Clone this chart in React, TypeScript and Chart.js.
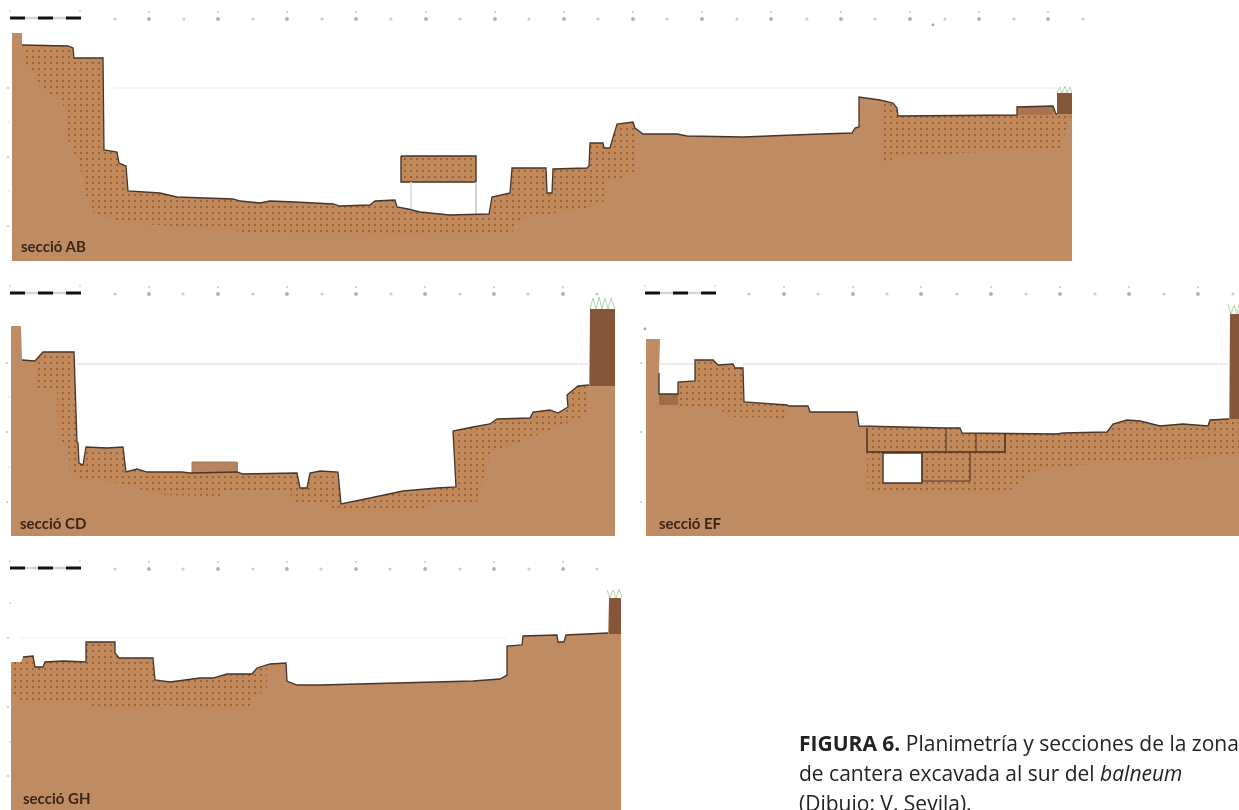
import React, { useEffect, useRef } from "react";
import { Chart, registerables } from "chart.js";

Chart.register(...registerables);

const W = 1239;
const H = 810;

const FILL = "#bf8b63";
const EDGE = "#46352a";
const WALL = "#85563a";

// Section AB
const abX = [12,12,22,22,68,73,74,103,104,117,119,126,128,160,177,233,240,260,270,295,333,340,370,375,395,397,408,420,450,489,492,510,512,546,547,552,553,587,589,590,603,604,610,617,633,635,643,677,687,743,820,852,855,859,859,880,893,897,898,1017,1017,1053,1056,1057,1057,1072,1072];
const abY = [261,33,33,45,46,48,58,58,150,152,163,166,191,193,197,199,201,203,201,202,204,206,205,201,200,207,209,212,215,214,197,193,168,168,193,193,169,168,166,143,143,148,148,124,122,128,134,134,136,137,134,133,128,127,97,100,103,108,116,115,107,106,114,114,93,93,261];
const abDotsX = [22,22,33,40,60,68,68,80,85,93,127,233,247,400,512,515,527,577,603,607,635,635];
const abDotsY = [50,63,72,88,100,113,140,167,193,213,223,230,233,235,233,225,217,210,203,183,173,125];
const abDots2X = [883,883,895,1010,1060,1072];
const abDots2Y = [115,165,157,150,148,114];
const abBigTicks = [149,218,287,356,426,495,564,633,702,771,841,910,979,1048];
const abMinorTicks = [115,184,253,322,391,460,529,598,667,737,807,875,945,1014,1083];
const abSideTicks = [88,157,226];
const abSideFaint = [122,191];

// Section CD
const cdX = [11,11,21,22,35,43,74,77,78,79,83,86,107,123,126,137,147,182,190,237,243,297,300,307,310,320,338,341,370,403,437,456,453,473,490,497,530,533,550,558,568,567,578,589,590,615,615];
const cdY = [536,326,326,360,361,352,352,442,443,463,465,447,448,447,472,469,472,472,473,472,474,473,488,488,473,471,472,504,498,491,488,487,431,427,424,419,418,412,410,413,407,395,386,385,309,309,536];
const cdDotsX = [35,35,57,58,68,70,80,120,143,163,220,223,290,293,330,330,415,437,477,483,490,543,587];
const cdDotsY = [363,388,390,440,447,472,480,483,490,495,496,490,490,502,503,512,512,503,502,480,453,433,415];
const cdBigTicks = [149,218,287,356,425,494,563];
const cdMinorTicks = [115,183,253,322,391,460,528,597];
const cdSideTicks = [363,432,502];
const cdSideFaint = [397,467];

// Section EF
const efX = [646,646,660,659,659,678,678,695,695,713,718,733,735,743,744,787,789,808,810,857,859,945,960,962,1057,1063,1107,1113,1127,1140,1160,1183,1208,1210,1229,1230,1239,1239];
const efY = [536,339,339,373,394,394,382,381,360,360,365,364,368,368,402,405,406,406,412,412,426,428,428,433,434,433,432,424,420,421,426,424,426,420,419,314,314,536];
const efDotsAX = [678,678,718,730,787,788];
const efDotsAY = [383,407,408,417,418,407];
const efDotsBX = [867,867,930,1007,1020,1030,1052,1097,1207,1239];
const efDotsBY = [428,493,493,493,483,472,468,463,458,453];
const efHoleX = [883,922,922,883,883];
const efHoleY = [453,453,483,483,453];
const efBoxX = [867,867,1005,1005];
const efBoxY = [428,452,452,433];
const efBox2X = [922,922,970,970];
const efBox2Y = [453,481,481,452];
const efDivAX = [946,946];
const efDivAY = [428,452];
const efDivBX = [976,976];
const efDivBY = [433,452];
const efBigTicks = [784,853,921,991,1060,1129,1198];
const efMinorTicks = [749,818,887,957,1026,1095,1164,1233];
const efSideTicks = [363,432,502];

// Section GH
const ghX = [11,11,21,23,33,35,43,45,63,86,86,115,115,119,153,155,170,200,213,227,252,257,270,286,287,297,320,473,500,507,507,522,523,557,558,564,566,608,609,621,621];
const ghY = [810,662,662,657,656,667,667,662,661,662,642,642,653,658,658,680,682,678,678,674,674,668,664,663,681,685,685,681,679,675,646,645,636,635,642,642,635,633,598,598,810];
const ghDotsX = [11,11,23,83,98,140,163,217,250,253,267,267];
const ghDotsY = [665,693,703,703,708,709,705,709,709,697,690,682];
const ghBigTicks = [149,218,287,356,425,494,563];
const ghMinorTicks = [115,183,253,321,390,460,529,597];
const ghSideTicks = [638,707,776];
const ghSideFaint = [603,742];

const strayX = [933, 645];
const strayY = [25, 329];

const sectionLabels = ["secció AB", "secció CD", "secció EF", "secció GH"];

type Pt = { x: number; y: number | null };
const zip = (xs: number[], ys: (number | null)[]): Pt[] => xs.map((x, i) => ({ x, y: ys[i] }));
const flat = (xs: number[], y: number): Pt[] => xs.map((x) => ({ x, y }));

export default function App() {
  const ref = useRef<HTMLCanvasElement>(null);

  useEffect(() => {
    const tile = document.createElement("canvas");
    tile.width = 6;
    tile.height = 6;
    const t = tile.getContext("2d")!;
    t.fillStyle = "rgba(198,128,70,0.3)";
    t.fillRect(0, 0, 6, 6);
    t.fillStyle = "rgba(130,78,45,0.6)";
    t.fillRect(2, 2, 2, 2);
    const stipple = t.createPattern(tile, "repeat")!;

    const ds: any[] = [];
    const area = (xs: number[], ys: number[], color: any, value: number) =>
      ds.push({ type: "line", data: zip(xs, ys), borderWidth: 0, borderColor: "transparent", backgroundColor: color, fill: { value }, pointRadius: 0, tension: 0 });
    const stroke = (xs: number[], ys: number[], color: string, width: number) =>
      ds.push({ type: "line", data: zip(xs, ys), borderWidth: width, borderColor: color, fill: false, pointRadius: 0, tension: 0 });
    const marks = (data: Pt[], r: number, color: string) =>
      ds.push({ type: "scatter", data, showLine: false, pointRadius: r, pointBackgroundColor: color, pointBorderWidth: 0 });

    const section = (
      xs: number[], ys: number[], top: number, dots: [number[], number[]][]
    ) => {
      const bottom = ys[0];
      area([xs[0], xs[xs.length - 1]], [bottom, bottom], FILL, top + 2);
      dots.forEach(([dx, dy]) => area(dx, dy, stipple, top + 2));
      area(xs, ys, "#ffffff", top);
    };

    const block = (x0: number, x1: number, y0: number, y1: number, color: string) =>
      area([x0, x1], [y0, y0], color, y1);

    const ruler = (x0: number, y: number, big: number[], minor: number[]) => {
      [15, 43].forEach((d) => stroke([x0 + d, x0 + d + 13], [y, y], "#d4d4d4", 2.4));
      [0, 28, 56].forEach((d) => stroke([x0 + d, x0 + d + 15], [y, y], "#111111", 3));
      marks(flat([x0, x0 + 70], y - 7), 0.8, "#bbbbbb");
      marks(flat(big, y + 1), 1.9, "#b0b0b0");
      marks(flat(big, y - 6), 1, "#c4c4c4");
      marks(flat(minor, y + 1), 1.6, "#cdcdcd");
    };

    section(abX, abY, 25, [[abDotsX, abDotsY], [abDots2X, abDots2Y]]);
    section(cdX, cdY, 290, [[cdDotsX, cdDotsY]]);
    section(efX, efY, 290, [[efDotsAX, efDotsAY], [efDotsBX, efDotsBY]]);
    section(ghX, ghY, 575, [[ghDotsX, ghDotsY]]);

    stroke([113, 1057], [88, 88], "#eeeeee", 1.2);
    stroke([74, 590], [364, 364], "#d9d9d9", 1.2);
    stroke([660, 695], [364, 364], "#d9d9d9", 1.2);
    stroke([743, 1230], [364, 364], "#d9d9d9", 1.2);
    stroke([20, 507], [638, 638], "#f0f0f0", 1.2);

    block(401, 476, 156, 182, FILL);
    area([401, 476], [156, 156], stipple, 182);
    stroke([401, 476, 476, 401, 401], [156, 156, 182, 182, 156], EDGE, 1.4);
    stroke([411, 411], [182, 211], "#dddddd", 1);
    stroke([476, 476], [182, 214], "#cccccc", 1);

    block(1017, 1053, 107, 115, "#a9744f");
    block(1057, 1072, 93, 114, WALL);
    block(590, 615, 309, 386, WALL);
    block(1230, 1239, 314, 419, WALL);
    block(609, 621, 598, 634, WALL);
    block(659, 678, 394, 405, "#a06c49");
    block(192, 237, 462, 473, "#b7845f");
    stroke([192, 192, 237, 237], [473, 462, 462, 473], "#a67a5a", 1);

    // grass on the top of the walls
    stroke([1057, 1060, 1062, 1065, 1067, 1070, 1072], [93, 87, 93, 86, 93, 87, 93], "#b4d6a6", 1);
    stroke([590, 593, 596, 599, 602, 605, 608, 611, 615], [309, 298, 309, 297, 309, 298, 309, 298, 309], "#b4d6a6", 1);
    stroke([1228, 1231, 1234, 1237, 1239], [304, 314, 305, 314, 305], "#b4d6a6", 1);
    stroke([607, 610, 613, 616, 619, 622], [590, 598, 590, 598, 589, 598], "#b4d6a6", 1);

    stroke(abX.slice(3, -3), abY.slice(3, -3), EDGE, 1.3);
    stroke(cdX.slice(3, -3), cdY.slice(3, -3), EDGE, 1.3);
    stroke(efX.slice(3, -3), efY.slice(3, -3), EDGE, 1.3);
    stroke(ghX.slice(3, -3), ghY.slice(3, -3), EDGE, 1.3);

    block(efHoleX[0], efHoleX[1], efHoleY[0], efHoleY[2], "#ffffff");
    stroke(efHoleX, efHoleY, EDGE, 1.4);
    stroke(efBoxX, efBoxY, "#4a2d1d", 1.4);
    stroke(efBox2X, efBox2Y, "#5a3a28", 1.2);
    stroke(efDivAX, efDivAY, "#5a3a28", 1.2);
    stroke(efDivBX, efDivBY, "#5a3a28", 1.2);

    ruler(10, 18, abBigTicks, abMinorTicks);
    ruler(10, 293, cdBigTicks, cdMinorTicks);
    ruler(645, 293, efBigTicks, efMinorTicks);
    ruler(10, 568, ghBigTicks, ghMinorTicks);

    abSideTicks.forEach((y) => marks([{ x: 8, y }], 1.1, "#c8c8c8"));
    abSideFaint.forEach((y) => marks([{ x: 9, y }], 0.8, "#dddddd"));
    cdSideTicks.forEach((y) => marks([{ x: 7, y }], 1.1, "#c8c8c8"));
    cdSideFaint.forEach((y) => marks([{ x: 9, y }], 0.8, "#dddddd"));
    efSideTicks.forEach((y) => marks([{ x: 641, y }], 1.1, "#c8c8c8"));
    ghSideTicks.forEach((y) => marks([{ x: 8, y }], 1.1, "#c8c8c8"));
    ghSideFaint.forEach((y) => marks([{ x: 10, y }], 1, "#d5d5d5"));
    marks(zip(strayX, strayY), 1.4, "#aaaaaa");

    ds.forEach((d, i) => (d.order = ds.length - i));

    const chart = new Chart(ref.current!, {
      type: "line",
      data: { datasets: ds },
      options: {
        animation: false,
        responsive: false,
        devicePixelRatio: 1,
        layout: { padding: 0, autoPadding: false },
        plugins: { legend: { display: false }, tooltip: { enabled: false }, title: { display: false } },
        scales: {
          x: { type: "linear", display: false, min: 0, max: W },
          y: { type: "linear", display: false, min: 0, max: H, reverse: true },
        },
      },
    } as any);
    return () => chart.destroy();
  }, []);

  const labelStyle = (left: number, top: number): React.CSSProperties => ({
    position: "absolute",
    left,
    top,
    font: "bold 15px Lato, sans-serif",
    color: "#3a2618",
    lineHeight: "16px",
    whiteSpace: "nowrap",
    filter: "blur(0.6px)",
  });

  return (
    <div style={{ position: "absolute", left: 0, top: 0, width: W, height: H, overflow: "hidden", background: "#fff" }}>
      <canvas ref={ref} width={W} height={H} style={{ position: "absolute", left: 0, top: 0, width: W, height: H, filter: "blur(0.7px)" }} />
      <span style={labelStyle(21, 238)}>{sectionLabels[0]}</span>
      <span style={labelStyle(20, 515)}>{sectionLabels[1]}</span>
      <span style={labelStyle(659, 515)}>{sectionLabels[2]}</span>
      <span style={labelStyle(23, 790)}>{sectionLabels[3]}</span>
      <div style={{ position: "absolute", left: 799, top: 728, width: 480, font: "21px 'Open Sans', sans-serif", lineHeight: "30px", color: "#222", whiteSpace: "nowrap" }}>
        <div><b>FIGURA 6.</b> Planimetría y secciones de la zona</div>
        <div>de cantera excavada al sur del <i>balneum</i></div>
        <div>(Dibujo: V. Sevila).</div>
      </div>
    </div>
  );
}
